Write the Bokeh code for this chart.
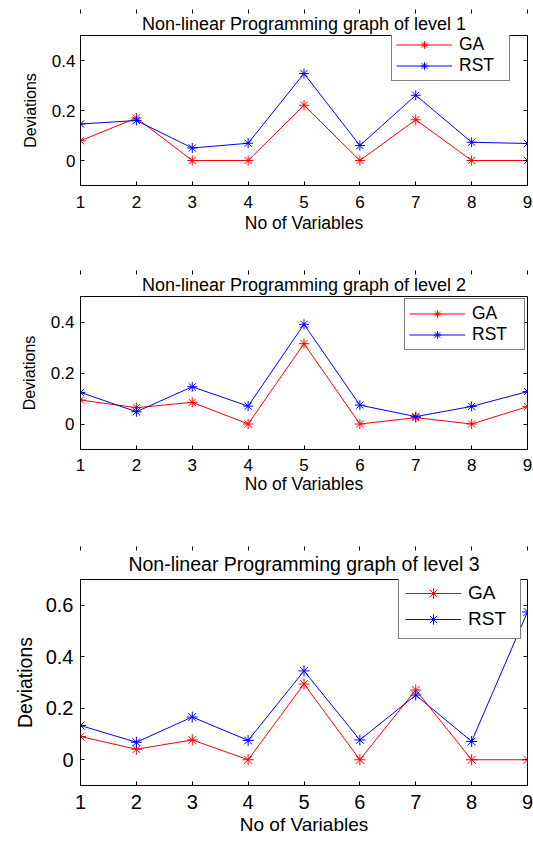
from bokeh.plotting import figure
from bokeh.models import Range1d, LinearAxis, FixedTicker, Legend, LegendItem, Title
from bokeh.layouts import column
from bokeh.embed import file_html
from bokeh.resources import INLINE

# ---- data ----
x_vars = [1, 2, 3, 4, 5, 6, 7, 8, 9]
ga_level1 = [0.079, 0.170, 0.0, 0.0, 0.221, 0.0, 0.163, 0.0, 0.0]
rst_level1 = [0.146, 0.160, 0.050, 0.069, 0.348, 0.060, 0.261, 0.073, 0.068]
ga_level2 = [0.094, 0.064, 0.085, 0.0, 0.315, 0.0, 0.025, 0.0, 0.068]
rst_level2 = [0.124, 0.048, 0.146, 0.070, 0.391, 0.074, 0.029, 0.069, 0.127]
ga_level3 = [0.090, 0.041, 0.077, 0.0, 0.294, 0.0, 0.271, 0.0, 0.0]
rst_level3 = [0.133, 0.068, 0.166, 0.075, 0.345, 0.077, 0.251, 0.071, 0.574]
titles = ["Non-linear Programming graph of level 1",
          "Non-linear Programming graph of level 2",
          "Non-linear Programming graph of level 3"]
x_label = "No of Variables"
y_label = "Deviations"
series_names = ["GA", "RST"]
y_ticks_12 = [0, 0.2, 0.4]
y_ticks_3 = [0, 0.2, 0.4, 0.6]

FONT = "Liberation Sans"


def make_panel(title, ga, rst, y_end, y_ticks, h, left, right, top, bottom,
               fs_title, fs_tick, fs_xlab, fs_ylab, fs_leg, tick_sx, tick_sy, lab_sx, lab_sy,
               title_standoff, leg_loc, leg_row, leg_pad, leg_lw, marker_size):
    p = figure(width=533, height=h, output_backend="svg", toolbar_location=None,
               x_range=Range1d(1, 9), y_range=Range1d(-0.1, y_end),
               min_border_left=left, min_border_right=right,
               min_border_top=top, min_border_bottom=bottom)
    p.title = None
    p.add_layout(Title(text=title, align="center", text_font=FONT,
                       text_font_size=fs_title, text_font_style="normal",
                       text_color="black", standoff=title_standoff), "above")
    p.xgrid.visible = False
    p.ygrid.visible = False
    p.outline_line_color = "black"
    p.outline_line_width = 1
    p.background_fill_color = "white"
    p.border_fill_color = "white"

    p.xaxis.ticker = FixedTicker(ticks=x_vars, minor_ticks=[])
    p.yaxis.ticker = FixedTicker(ticks=y_ticks, minor_ticks=[])
    for ax in (p.xaxis[0], p.yaxis[0]):
        ax.major_tick_in = 4
        ax.major_tick_out = 0
        ax.minor_tick_line_color = None
        ax.axis_line_color = "black"
        ax.major_tick_line_color = "black"
        ax.major_label_text_font = FONT
        ax.major_label_text_font_size = fs_tick
        ax.major_label_text_color = "black"
        ax.axis_label_text_font = FONT
        ax.axis_label_text_font_style = "normal"
        ax.axis_label_text_color = "black"
    p.xaxis.axis_label_text_font_size = fs_xlab
    p.yaxis.axis_label_text_font_size = fs_ylab
    p.xaxis.axis_label = x_label
    p.yaxis.axis_label = y_label
    p.xaxis.major_label_standoff = tick_sx
    p.yaxis.major_label_standoff = tick_sy
    p.xaxis.axis_label_standoff = lab_sx
    p.yaxis.axis_label_standoff = lab_sy
    p.yaxis.formatter.use_scientific = False

    # box ticks on the top and right sides (labels not drawn)
    top_ax = LinearAxis(ticker=FixedTicker(ticks=x_vars, minor_ticks=[]),
                        major_label_text_font_size="1px", major_label_text_color=None,
                        major_label_standoff=0,
                        major_tick_in=4, major_tick_out=0, axis_line_color=None,
                        minor_tick_line_color=None, major_tick_line_color="black")
    right_ax = LinearAxis(ticker=FixedTicker(ticks=y_ticks, minor_ticks=[]),
                          major_label_text_font_size="1px", major_label_text_color=None,
                          major_label_standoff=0,
                          major_tick_in=4, major_tick_out=0, axis_line_color=None,
                          minor_tick_line_color=None, major_tick_line_color="black")
    p.add_layout(top_ax, "above")
    p.add_layout(right_ax, "right")

    items = []
    for name, vals, col in ((series_names[0], ga, "#ff0000"), (series_names[1], rst, "#0000ff")):
        ln = p.line(x_vars, vals, line_color=col, line_width=1)
        sc = p.scatter(x_vars, vals, marker="asterisk", size=marker_size,
                       line_color=col, line_width=1)
        items.append(LegendItem(label=name, renderers=[ln, sc]))

    leg = Legend(items=items, location=leg_loc, orientation="vertical",
                 border_line_color="black", border_line_width=1,
                 background_fill_color="white", background_fill_alpha=1,
                 label_text_font=FONT, label_text_font_size=fs_leg,
                 label_text_color="black", glyph_width=56, glyph_height=leg_row,
                 label_height=leg_row, label_width=leg_lw, label_standoff=7,
                 padding=leg_pad, spacing=0, margin=0)
    p.add_layout(leg, "center")
    return p


p1 = make_panel(titles[0], ga_level1, rst_level1, 0.5, y_ticks_12, 270,
                80, 6, 35, 85, "18px", "17px", "17.5px", "16px", "17.5px",
                10, 5, 2, 10, 3.5, (311, 104), 19, 4, 46, 10)
p2 = make_panel(titles[1], ga_level2, rst_level2, 0.5, y_ticks_12, 270,
                79, 3, 26, 91, "18px", "17px", "17.5px", "16px", "17.5px",
                9, 6, 0, 10, 3.5, (324, 99), 19, 4, 48, 10)
p3 = make_panel(titles[2], ga_level3, rst_level3, 0.7, y_ticks_3, 301,
                70, 6, 39, 56, "19.5px", "20px", "19px", "19.5px", "19px",
                9, 7, 2, 7, 8.5, (318, 146), 26, 6, 46, 11)

layout = column(p1, p2, p3, spacing=0)
open("out.html", "w").write(file_html(layout, INLINE))
